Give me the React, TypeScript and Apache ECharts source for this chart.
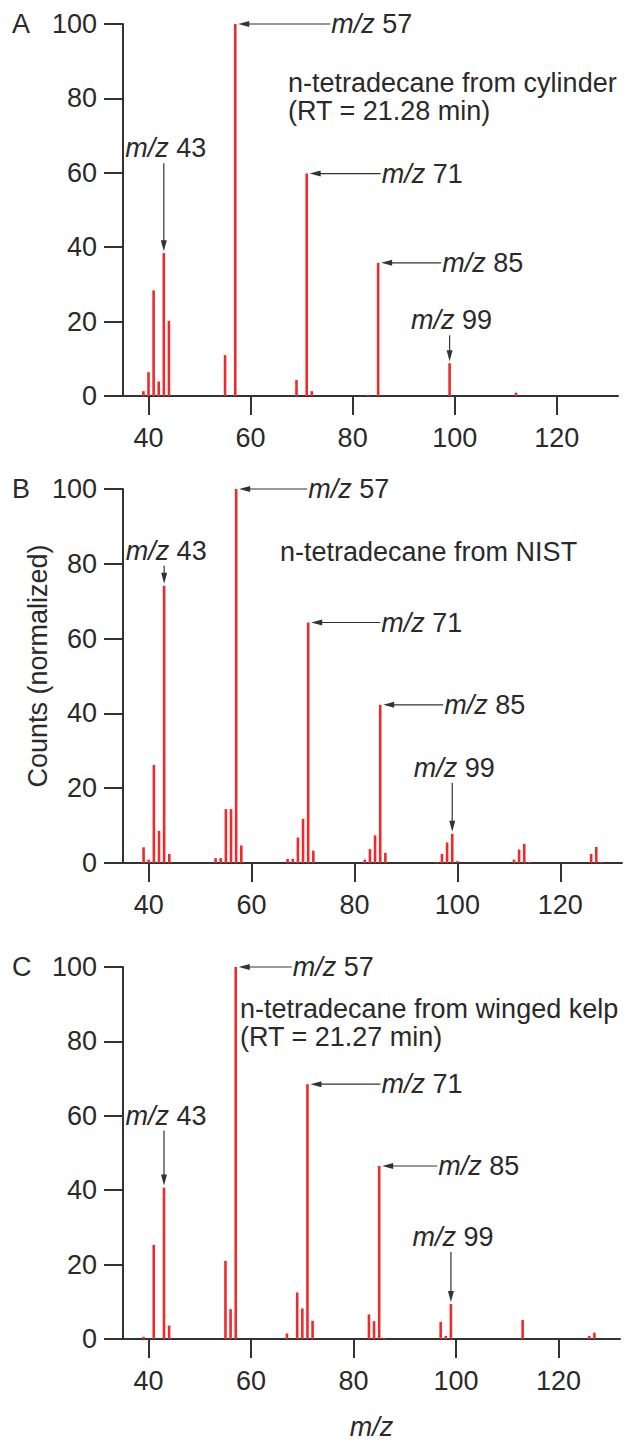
import React, { useEffect, useRef } from "react";
import * as echarts from "echarts";

// ---- Data ----
const mzA = [39, 40, 41, 42, 43, 44, 55, 57, 69, 71, 72, 83, 85, 99, 112];
const intA = [1.3, 6.4, 28.4, 3.9, 38.4, 20.2, 11.0, 100, 4.3, 59.8, 1.3, 0.3, 35.8, 8.8, 0.9];

const mzB = [39, 40, 41, 42, 43, 44, 53, 54, 55, 56, 57, 58, 67, 68, 69, 70, 71, 72, 82, 83, 84, 85, 86, 96, 97, 98, 99, 100, 111, 112, 113, 114, 126, 127, 128];
const intB = [4.2, 0.9, 26.2, 8.6, 74.1, 2.4, 1.3, 1.3, 14.4, 14.4, 100, 4.7, 1.1, 1.1, 6.8, 11.8, 64.3, 3.3, 0.9, 3.7, 7.4, 42.3, 2.7, 0.3, 2.4, 5.5, 7.8, 0.5, 0.9, 3.6, 5.1, 0.3, 2.4, 4.3, 0.3];

const mzC = [39, 41, 43, 44, 55, 56, 57, 67, 69, 70, 71, 72, 83, 84, 85, 86, 97, 98, 99, 113, 126, 127];
const intC = [0.6, 25.3, 40.7, 3.6, 21.0, 8.0, 100, 1.5, 12.5, 8.2, 68.5, 4.9, 6.6, 4.8, 46.5, 0.3, 4.6, 0.8, 9.4, 5.1, 0.8, 1.7];

const panelLetters = ["A", "B", "C"];
const panelTitles = [
  ["n-tetradecane from cylinder", "(RT = 21.28 min)"],
  ["n-tetradecane from NIST"],
  ["n-tetradecane from winged kelp", "(RT = 21.27 min)"],
];
const labelledPeaks = [43, 57, 71, 85, 99];
const xTicks = [40, 60, 80, 100, 120];
const yAxisName = "Counts (normalized)";
const xAxisName = "m/z";

// ---- Layout / style ----
const W = 628;
const H = 1444;
const FONT = "'Liberation Sans', Arial, Helvetica, sans-serif";
const FS = 27;
const TEXT = "#2a2a2a";
const AXIS = "#333333";
const RED = "#ee2a2a";

const grids = [
  { left: 123, right: 10, top: 24, height: 372 },
  { left: 123, right: 6, top: 489, height: 374 },
  { left: 123, right: 8, top: 967, height: 372 },
];
// annotation layout: arrows pointing left (len px to text) or down (text offset above bar)
const annotLayout: any[] = [
  { 43: { dir: "down", above: 105 }, 57: { dir: "left", len: 96 }, 71: { dir: "left", len: 75 }, 85: { dir: "left", len: 64 }, 99: { dir: "down", above: 43 } },
  { 43: { dir: "down", above: 35 }, 57: { dir: "left", len: 72 }, 71: { dir: "left", len: 73 }, 85: { dir: "left", len: 64 }, 99: { dir: "down", above: 66 } },
  { 43: { dir: "down", above: 72 }, 57: { dir: "left", len: 57 }, 71: { dir: "left", len: 74 }, 85: { dir: "left", len: 59 }, 99: { dir: "down", above: 67 } },
];
const titlePos = [
  { x: 288, y: 82.5 },
  { x: 280, y: 551.5 },
  { x: 240, y: 1008.5 },
];
const lineGap = 28;

const panels = [
  { mz: mzA, int: intA },
  { mz: mzB, int: intB },
  { mz: mzC, int: intC },
];

function mzText(mz: number) {
  return `{i|m/z}{n| ${mz}}`;
}
const rich = {
  i: { fontStyle: "italic", fontSize: FS, fontFamily: FONT, fill: TEXT },
  n: { fontSize: FS, fontFamily: FONT, fill: TEXT },
};

export default function App() {
  const ref = useRef<HTMLDivElement>(null);
  useEffect(() => {
    document.body.style.margin = "0";
    const chart = echarts.init(ref.current!, null, { renderer: "svg", width: W, height: H });
    const option: any = {
      animation: false,
      backgroundColor: "#ffffff",
      grid: grids.map((g) => ({ ...g, containLabel: false })),
      xAxis: grids.map((_, i) => ({
        type: "value",
        gridIndex: i,
        min: 35,
        max: 132,
        splitLine: { show: false },
        axisLine: { show: true, lineStyle: { color: AXIS, width: 2 } },
        axisTick: { show: true, length: 19, lineStyle: { color: AXIS, width: 2 }, customValues: xTicks },
        axisLabel: { show: true, customValues: xTicks, margin: 28, fontSize: FS, fontFamily: FONT, color: TEXT },
        name: i === 2 ? xAxisName : "",
        nameLocation: "middle",
        nameGap: 74,
        nameTextStyle: { fontStyle: "italic", fontSize: FS, fontFamily: FONT, color: TEXT },
      })),
      yAxis: grids.map((_, i) => ({
        type: "value",
        gridIndex: i,
        min: 0,
        max: 100,
        interval: 20,
        splitLine: { show: false },
        axisLine: { show: true, lineStyle: { color: AXIS, width: 2 } },
        axisTick: { show: true, length: 19, lineStyle: { color: AXIS, width: 2 } },
        axisLabel: { margin: 26, fontSize: FS, fontFamily: FONT, color: TEXT },
      })),
      series: panels.map((p, i) => ({
        type: "bar",
        xAxisIndex: i,
        yAxisIndex: i,
        barWidth: 2.6,
        itemStyle: { color: RED },
        data: p.mz.map((m, k) => [m, p.int[k]]),
      })),
    };
    chart.setOption(option);

    const els: any[] = [];
    panels.forEach((p, i) => {
      const g = grids[i];
      // panel letter
      els.push({
        type: "text",
        x: 12,
        y: g.top,
        style: { text: panelLetters[i], fontSize: FS, fontFamily: FONT, fill: TEXT, align: "left", verticalAlign: "middle" },
      });
      // title lines
      panelTitles[i].forEach((t, k) => {
        els.push({
          type: "text",
          x: titlePos[i].x,
          y: titlePos[i].y + k * lineGap,
          style: { text: t, fontSize: FS, fontFamily: FONT, fill: TEXT, align: "left", verticalAlign: "middle" },
        });
      });
      labelledPeaks.forEach((mz) => {
        const idx = p.mz.indexOf(mz);
        if (idx < 0) return;
        const [px, py] = chart.convertToPixel({ gridIndex: i } as any, [mz, p.int[idx]]) as number[];
        const L = annotLayout[i][mz];
        if (L.dir === "left") {
          const tip = px + 3;
          els.push({ type: "line", shape: { x1: tip + 8, y1: py, x2: px + L.len - 1, y2: py }, style: { stroke: AXIS, lineWidth: 1.2 } });
          els.push({ type: "polygon", shape: { points: [[tip, py], [tip + 11, py - 3], [tip + 11, py + 3]] }, style: { fill: AXIS } });
          els.push({ type: "text", x: px + L.len, y: py, style: { text: mzText(mz), rich, fontSize: FS, fontFamily: FONT, fill: TEXT, align: "left", verticalAlign: "middle" } });
        } else {
          const ty = py - L.above;
          const tipY = py - 2;
          els.push({ type: "line", shape: { x1: px, y1: ty + 15, x2: px, y2: tipY - 8 }, style: { stroke: AXIS, lineWidth: 1.2 } });
          els.push({ type: "polygon", shape: { points: [[px, tipY], [px - 3, tipY - 11], [px + 3, tipY - 11]] }, style: { fill: AXIS } });
          els.push({ type: "text", x: px + 2, y: ty, style: { text: mzText(mz), rich, fontSize: FS, fontFamily: FONT, fill: TEXT, align: "center", verticalAlign: "middle" } });
        }
      });
    });
    // y axis name
    els.push({
      type: "text",
      x: 38,
      y: 666,
      rotation: Math.PI / 2,
      style: { text: yAxisName, fontSize: FS, fontFamily: FONT, fill: TEXT, align: "center", verticalAlign: "middle" },
    });
    chart.setOption({ graphic: { elements: els } });
    return () => chart.dispose();
  }, []);
  return <div ref={ref} style={{ width: W, height: H }} />;
}
